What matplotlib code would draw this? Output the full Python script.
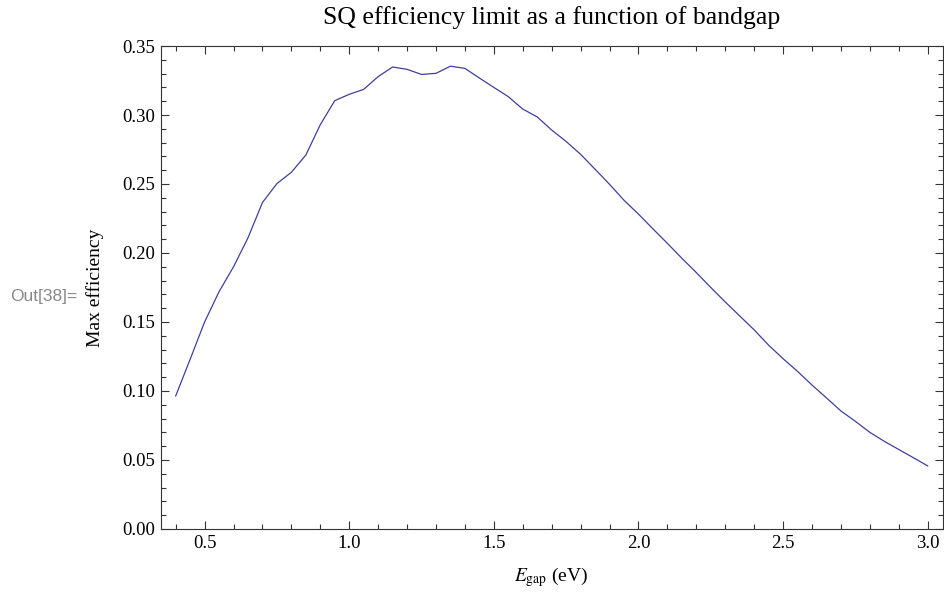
import numpy as np
import matplotlib
matplotlib.use("Agg")
import matplotlib.pyplot as plt
from matplotlib.ticker import MultipleLocator

# bandgap (eV) and max efficiency
egap = [0.40, 0.45, 0.50, 0.55, 0.60, 0.65, 0.70, 0.75, 0.80, 0.85,
        0.90, 0.95, 1.00, 1.05, 1.10, 1.15, 1.20, 1.25, 1.30, 1.35,
        1.40, 1.45, 1.50, 1.55, 1.60, 1.65, 1.70, 1.75, 1.80, 1.85,
        1.90, 1.95, 2.00, 2.05, 2.10, 2.15, 2.20, 2.25, 2.30, 2.35,
        2.40, 2.45, 2.50, 2.55, 2.60, 2.65, 2.70, 2.75, 2.80, 2.85,
        2.90, 2.95, 3.00]
max_eff = [0.0964, 0.123, 0.150, 0.172, 0.190, 0.211, 0.2366, 0.2503, 0.2585, 0.271,
           0.293, 0.3104, 0.315, 0.3186, 0.3278, 0.3348, 0.3331, 0.3294, 0.3302, 0.3354,
           0.3338, 0.3268, 0.3200, 0.3133, 0.3043, 0.2986, 0.2891, 0.2808, 0.2715, 0.2607,
           0.2498, 0.2382, 0.2282, 0.2175, 0.2070, 0.1962, 0.1858, 0.1750, 0.1645, 0.1544,
           0.1443, 0.1332, 0.1234, 0.1142, 0.1043, 0.0950, 0.0855, 0.0780, 0.0700, 0.0635,
           0.0576, 0.0517, 0.0457]

plt.rcParams['font.family'] = ['Liberation Serif', 'DejaVu Serif']
plt.rcParams['mathtext.fontset'] = 'stix'

fig = plt.figure(figsize=(9.45, 5.93), dpi=100)
ax = fig.add_axes([0.170, 0.108, 0.8276, 0.8144])

ax.plot(egap, max_eff, color='#3f3f9f', lw=0.9)

ax.set_xlim(0.348, 3.052)
ax.set_ylim(0, 0.35)

ax.xaxis.set_major_locator(MultipleLocator(0.5))
ax.xaxis.set_minor_locator(MultipleLocator(0.1))
ax.yaxis.set_major_locator(MultipleLocator(0.05))
ax.yaxis.set_minor_locator(MultipleLocator(0.01))
ax.xaxis.set_major_formatter(plt.FuncFormatter(lambda v, p: f"{v:.1f}"))
ax.yaxis.set_major_formatter(plt.FuncFormatter(lambda v, p: f"{v:.2f}"))

ax.tick_params(which='both', direction='in', top=True, right=True,
               color='#333333', labelsize=13.5, width=0.8, pad=4)
ax.tick_params(which='major', length=6)
ax.tick_params(which='minor', length=3.5)
for s in ax.spines.values():
    s.set_color('#333333')
    s.set_linewidth(0.8)

ax.set_title("SQ efficiency limit as a function of bandgap", fontsize=18.5, pad=16)
ax.set_xlabel(r"$E_{\mathrm{gap}}$ (eV)", fontsize=14, labelpad=10)
ax.set_ylabel("Max efficiency", fontsize=14, labelpad=13)

fig.text(0.0106, 0.5, "Out[38]=", color='#888888', fontsize=12.5,
         family='Liberation Sans', va='center', ha='left')

fig.savefig("out.png", dpi=100)
